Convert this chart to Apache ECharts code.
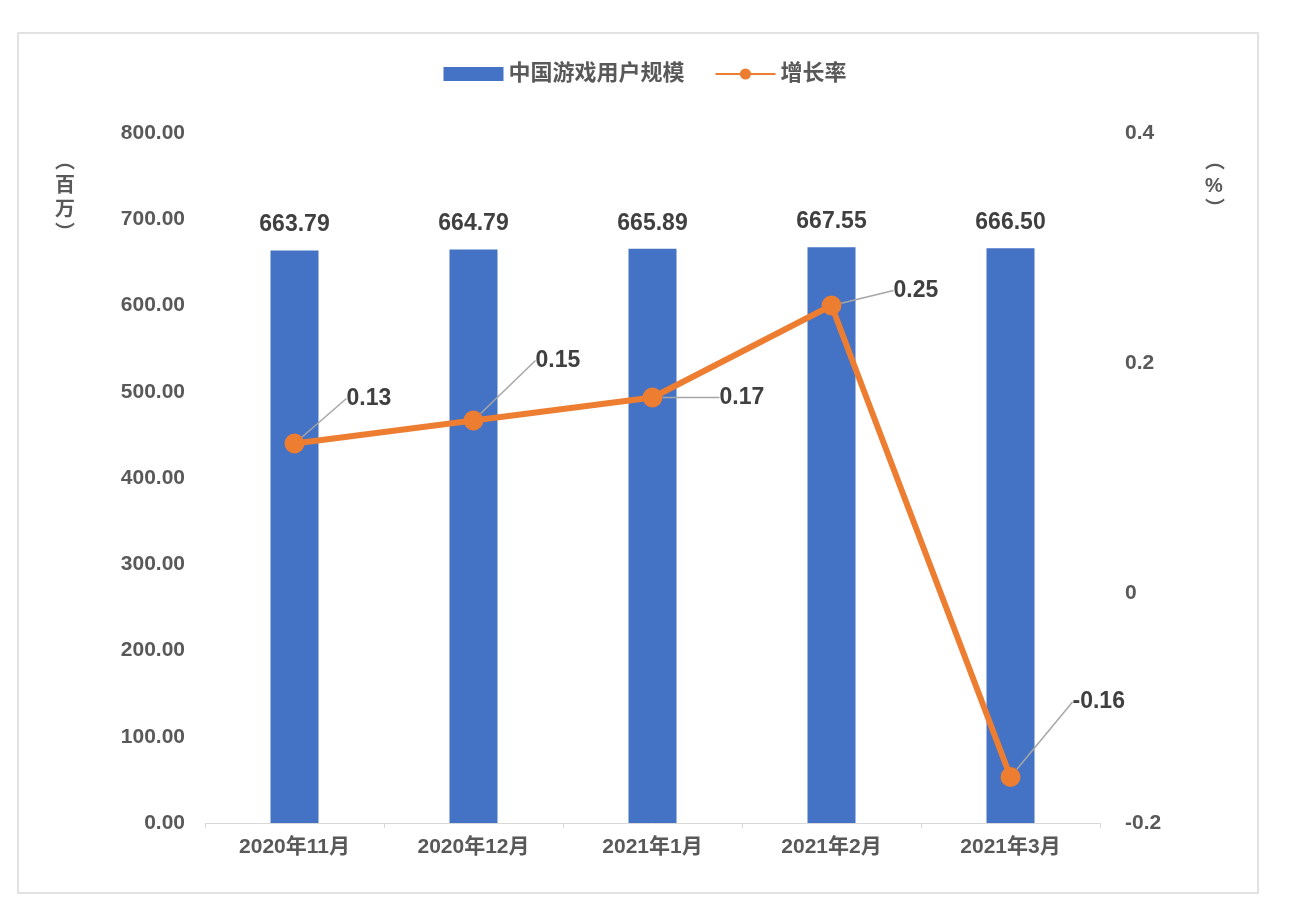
<!DOCTYPE html>
<html><head><meta charset="utf-8">
<script src="https://cdn.jsdelivr.net/npm/echarts@6/dist/echarts.min.js"></script>
<style>body{margin:0;background:#fff}#c{width:1290px;height:918px}</style></head>
<body><div id="c"></div>
<script>
const categories=['2020年11月','2020年12月','2021年1月','2021年2月','2021年3月'];
const users=[663.79,664.79,665.89,667.55,666.50];
const growth=[0.13,0.15,0.17,0.25,-0.16];
const labelOffsets=[[30,-45],[40,-60],[45,0],[40,-15],[40,-75]];
const chart=echarts.init(document.getElementById('c'));
const F='"Liberation Sans","Noto Sans CJK SC",sans-serif';
chart.setOption({
 textStyle:{fontFamily:F},
 graphic:[
  {type:'rect',shape:{x:18,y:33,width:1240,height:860},style:{fill:'none',stroke:'#d9d9d9',lineWidth:1.5}},
  {type:'text',left:55,top:150,style:{text:'︵\n百\n万\n︶',font:'bold 20px '+F,fill:'#595959',lineHeight:24,align:'center'}},
  {type:'text',left:1205,top:150,style:{text:'︵\n%\n︶',font:'bold 20px '+F,fill:'#595959',lineHeight:24,align:'center'}}
 ],
 legend:{top:58,left:'center',itemWidth:60,itemHeight:14,itemGap:30,textStyle:{fontSize:22,fontWeight:'bold',color:'#595959',fontFamily:F},
  data:[{name:'中国游戏用户规模',icon:'rect'},{name:'增长率'}]},
 grid:{left:205,right:190,top:133,bottom:95},
 xAxis:{type:'category',data:categories,axisTick:{show:true,lineStyle:{color:'#d9d9d9'}},axisLine:{lineStyle:{color:'#d9d9d9'}},
  axisLabel:{fontSize:21,fontWeight:'bold',color:'#595959',margin:14}},
 yAxis:[
  {type:'value',min:0,max:800,interval:100,splitLine:{show:false},axisLabel:{fontSize:21,fontWeight:'bold',color:'#595959',formatter:v=>v.toFixed(2),margin:20}},
  {type:'value',min:-0.2,max:0.4,interval:0.2,splitLine:{show:false},axisLabel:{fontSize:21,fontWeight:'bold',color:'#595959',margin:25,formatter:v=>String(Math.round(v*10)/10)}}
 ],
 series:[
  {name:'中国游戏用户规模',type:'bar',data:users,barWidth:48,itemStyle:{color:'#4472C4'},
   label:{show:true,position:'top',distance:14,fontSize:23,fontWeight:'bold',color:'#404040',formatter:p=>p.value.toFixed(2)}},
  {name:'增长率',type:'line',yAxisIndex:1,data:growth,
   symbol:'circle',symbolSize:20,lineStyle:{width:6,color:'#ED7D31'},itemStyle:{color:'#ED7D31'},
   label:{show:true,position:'right',distance:12,fontSize:23,fontWeight:'bold',color:'#404040',formatter:p=>p.value.toFixed(2)},
   labelLayout:p=>({dx:labelOffsets[p.dataIndex][0],dy:labelOffsets[p.dataIndex][1]}),
   labelLine:{show:true,lineStyle:{color:'#a6a6a6',width:1.5}}}
 ]
});
</script></body></html>
